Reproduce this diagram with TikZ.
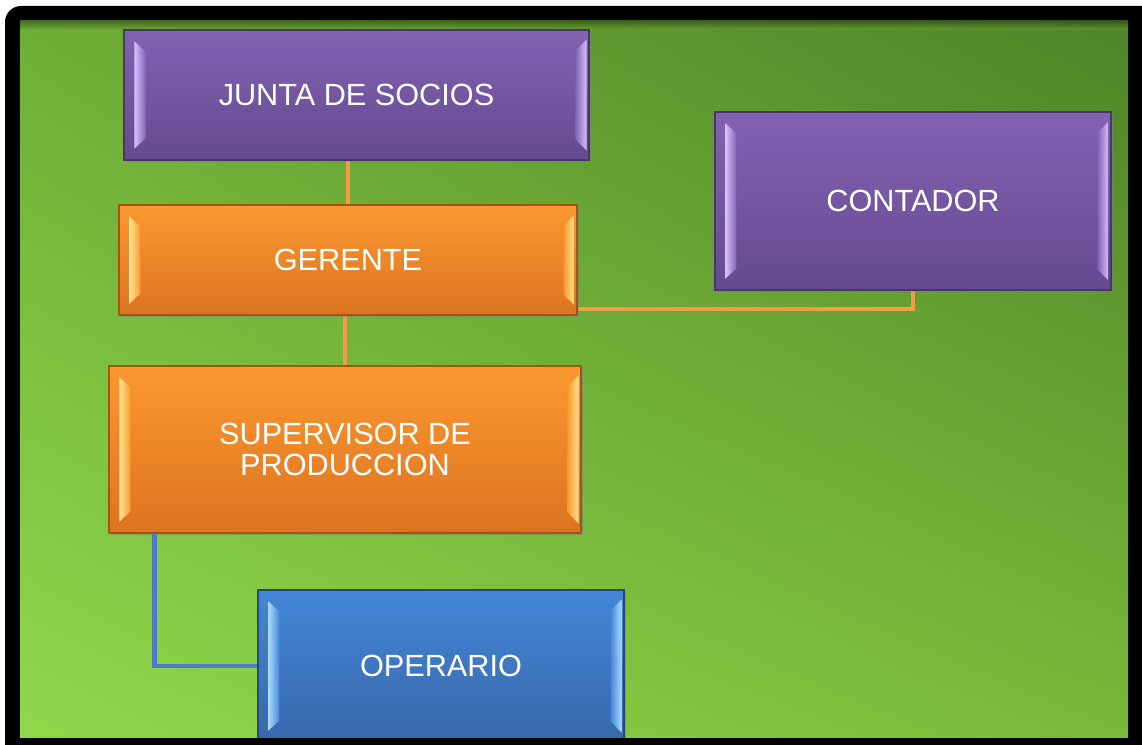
\documentclass[tikz,border=0pt]{standalone}
\usepackage{fontspec}
\setmainfont{Liberation Sans}
\usetikzlibrary{calc,shadows,shadings}
\definecolor{gTL}{HTML}{6FAE36}
\definecolor{gTR}{HTML}{4E8428}
\definecolor{gBL}{HTML}{8FD84A}
\definecolor{gBR}{HTML}{7AB83A}
\definecolor{pTop}{HTML}{8262B2}
\definecolor{pBot}{HTML}{664A90}
\definecolor{pLight}{HTML}{D8C0FF}
\definecolor{pEdge}{HTML}{4A346A}
\definecolor{oTop}{HTML}{FB9830}
\definecolor{oBot}{HTML}{DC7420}
\definecolor{oLight}{HTML}{FFE590}
\definecolor{oEdge}{HTML}{A05810}
\definecolor{bTop}{HTML}{4486D8}
\definecolor{bBot}{HTML}{3868AA}
\definecolor{bLight}{HTML}{A8D8FF}
\definecolor{bEdge}{HTML}{26497A}
\definecolor{oLine}{HTML}{F59A45}
\definecolor{bLine}{HTML}{4D7CC6}
\newcommand\bevel[3]{%
  \shade[left color=#2,right color=#3] ($(#1.north west)+(11,12)$) -- ($(#1.north west)+(22,22)$) -- ($(#1.south west)+(22,-22)$) -- ($(#1.south west)+(11,-12)$) -- cycle;
  \shade[left color=#3,right color=#2] ($(#1.north east)+(-3,10)$) -- ($(#1.north east)+(-14,21)$) -- ($(#1.south east)+(-14,-21)$) -- ($(#1.south east)+(-3,-10)$) -- cycle;
}
\begin{document}
\begin{tikzpicture}[x=0.75pt,y=-0.75pt,
  boxtext/.style={text=white,font=\fontsize{23}{23.3}\selectfont,align=center,inner sep=0pt},
  basebox/.style={rectangle,inner sep=0pt,line width=0.8pt,drop shadow={shadow xshift=1.5pt,shadow yshift=-1.5pt,opacity=0.35}},
  purplebox/.style={basebox,top color=pTop,bottom color=pBot,draw=pEdge},
  orangebox/.style={basebox,top color=oTop,bottom color=oBot,draw=oEdge},
  bluebox/.style={basebox,top color=bTop,bottom color=bBot,draw=bEdge},
  oconn/.style={draw=oLine,line width=3pt},
  bconn/.style={draw=bLine,line width=3.3pt}]
\useasboundingbox (0,0) rectangle (1142,745);
\fill[white] (0,0) rectangle (1142,745);
\fill[black,rounded corners=12] (5,6) rectangle (1160,770);
\shade[upper left=gTL,upper right=gTR,lower left=gBL,lower right=gBR] (20,21) rectangle (1128,737);
\shade[top color=black!60!gTR,bottom color=gTL,opacity=0.5] (20,21) rectangle (1128,30);
\begin{scope}
\clip (20,21) rectangle (1128,737);
% nodes
\node[purplebox,minimum width=348.75pt,minimum height=97.5pt] (junta) at (356.5,95) {};
\node[orangebox,minimum width=343.5pt,minimum height=82.5pt] (gerente) at (348,260) {};
\node[purplebox,minimum width=297pt,minimum height=133.5pt] (contador) at (913,201) {};
\node[orangebox,minimum width=354pt,minimum height=125.25pt] (supervisor) at (345,449.5) {};
\node[bluebox,minimum width=274.5pt,minimum height=114pt] (operario) at (441,666) {};
% connectors
\draw[oconn] (junta.south -| gerente.north) -- (gerente.north);
\draw[oconn] (gerente.south -| supervisor.north) -- (supervisor.north);
\draw[oconn] (contador.south) |- ($(gerente.south east)+(0,-7)$);
\draw[bconn] ($(supervisor.south west)+(46,0)$) |- (operario.west);
% redraw boxes over connectors
\node[purplebox,minimum width=348.75pt,minimum height=97.5pt] at (356.5,95) {};
\node[orangebox,minimum width=343.5pt,minimum height=82.5pt] at (348,260) {};
\node[purplebox,minimum width=297pt,minimum height=133.5pt] at (913,201) {};
\node[orangebox,minimum width=354pt,minimum height=125.25pt] at (345,449.5) {};
\node[bluebox,minimum width=274.5pt,minimum height=114pt] at (441,666) {};
\bevel{junta}{pLight}{pTop}
\bevel{gerente}{oLight}{oTop}
\bevel{contador}{pLight}{pTop}
\bevel{supervisor}{oLight}{oTop}
\bevel{operario}{bLight}{bTop}
% texts
\node[boxtext] (tjunta) at (junta.center) {JUNTA DE SOCIOS};
\node[boxtext] (tgerente) at (gerente.center) {GERENTE};
\node[boxtext] (tcontador) at (contador.center) {CONTADOR};
\node[boxtext] (tsupervisor) at (supervisor.center) {SUPERVISOR DE\\PRODUCCION};
\node[boxtext] (toperario) at (operario.center) {OPERARIO};
\end{scope}
\end{tikzpicture}
\end{document}
